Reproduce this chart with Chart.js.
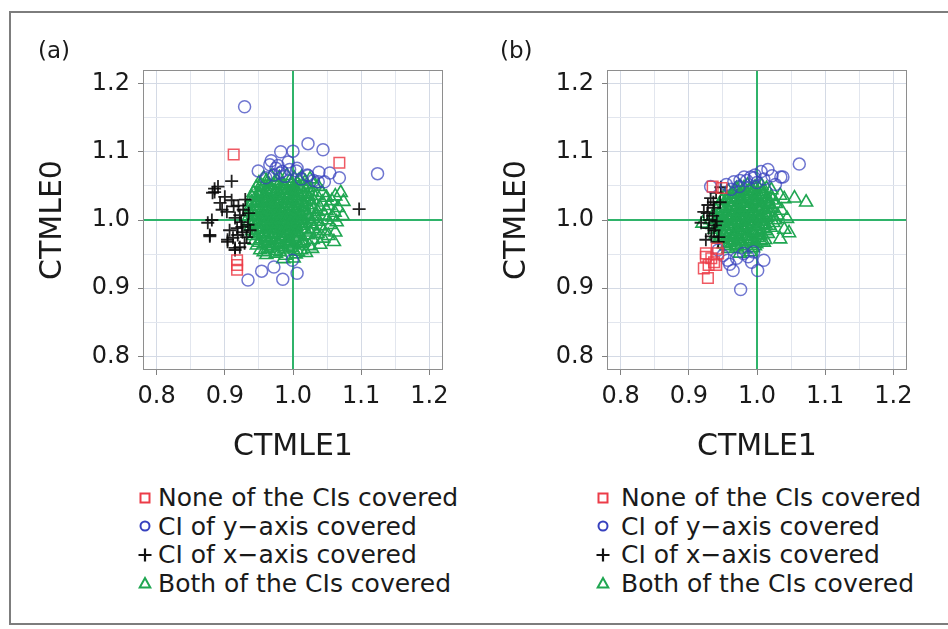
<!DOCTYPE html>
<html><head><meta charset="utf-8">
<script src="https://cdn.jsdelivr.net/npm/chart.js@4.4.1/dist/chart.umd.min.js"></script>
<style>
html,body{margin:0;padding:0;background:#fff;width:948px;height:629px;overflow:hidden;}
#frame{position:absolute;left:9px;top:11px;width:1000px;height:614px;border:2px solid #7d7d7d;box-sizing:border-box;}
canvas{position:absolute;top:0;}
.lbl{position:absolute;font-family:'DejaVu Sans';font-size:23px;line-height:23px;color:#1a1a1a;}
.leg{position:absolute;font-family:'DejaVu Sans';font-size:25px;line-height:28.4px;color:#1a1a1a;white-space:nowrap;}
.mk{position:absolute;}
</style></head><body>
<div id="frame"></div>
<canvas id="ca" width="474" height="470" style="left:0px"></canvas>
<canvas id="cb" width="474" height="470" style="left:464px"></canvas>
<div class="lbl" style="left:38px;top:39px">(a)</div>
<div class="lbl" style="left:500px;top:39px">(b)</div>
<div id="legends"></div>
<script>
// ---------- data ----------
const seriesLabels = ['None of the CIs covered','CI of y\u2212axis covered','CI of x\u2212axis covered','Both of the CIs covered'];
const xTitle = 'CTMLE1';
const yTitle = 'CTMLE0';
const axisMin = 0.78, axisMax = 1.22;
const majorTicks = [0.8, 0.9, 1.0, 1.1, 1.2];
const gridValues = [0.8, 0.85, 0.9, 0.95, 1.0, 1.05, 1.1, 1.15, 1.2];
const refValue = 1.0;

// Panel (a)
const noneA = [[0.913,1.096],[1.068,1.084],[0.918,0.941],[0.918,0.934],[0.918,0.927]];
const yCovA = [[0.929,1.166],[1.022,1.112],[1.044,1.103],[0.982,1.100],[1.000,1.101],[0.968,1.087],[0.993,1.085],[1.006,1.076],[0.975,1.076],[0.949,1.072],[0.984,1.071],[1.054,1.069],[1.124,1.068],[1.068,1.062],[1.022,1.065],[1.005,1.072],[1.038,1.070],[0.960,1.062],[0.981,1.069],[0.966,1.081],[1.021,1.066],[1.037,1.056],[0.988,1.064],[0.995,1.074],[0.972,1.066],[1.012,1.060],[0.978,1.080],[1.030,1.058],[1.046,1.056],
  [0.934,0.912],[0.954,0.925],[0.972,0.931],[0.985,0.913],[1.006,0.922],[0.999,0.941]];
const xCovA = [[0.910,1.057],[0.885,1.046],[0.890,1.049],[0.882,1.040],[0.900,1.034],[0.893,1.025],[0.910,1.029],[0.903,1.012],[0.881,1.000],[0.915,1.003],[0.922,1.007],[0.878,0.976],[0.907,0.985],[0.918,0.988],[0.925,0.990],[0.912,0.974],[0.919,0.978],[0.926,0.982],[0.904,0.968],[0.932,0.975],[0.937,0.985],[0.934,0.993],[0.922,0.960],[0.915,0.956],[1.097,1.016],[0.885,1.041],[0.896,1.015],[0.875,0.996],[0.878,0.978],[0.904,0.971],[0.915,0.959],[0.929,0.966],[0.920,1.021],[0.927,1.015],[0.913,1.020],[0.935,1.010],[0.924,0.997],[0.930,1.030]];
const bothA = [
  [0.957,1.061],[0.968,1.064],[0.980,1.062],[0.991,1.065],[1.002,1.061],[1.013,1.063],[1.025,1.060],
  [0.950,1.054],[0.961,1.057],[0.973,1.055],[0.984,1.053],[0.995,1.057],[1.006,1.054],[1.018,1.056],[1.031,1.053],
  [0.946,1.047],[0.956,1.049],[0.967,1.046],[0.978,1.050],[0.989,1.048],[0.999,1.046],[1.010,1.049],[1.021,1.047],[1.037,1.049],
  [0.942,1.040],[0.953,1.042],[0.963,1.039],[0.974,1.041],[0.985,1.043],[0.996,1.040],[1.006,1.042],[1.016,1.039],[1.028,1.041],[1.043,1.040],[1.070,1.040],
  [0.940,1.033],[0.950,1.035],[0.960,1.032],[0.971,1.034],[0.981,1.036],[0.992,1.033],[1.002,1.035],[1.012,1.032],[1.023,1.034],[1.035,1.036],[1.049,1.033],[1.062,1.035],
  [0.939,1.026],[0.948,1.028],[0.958,1.025],[0.968,1.027],[0.978,1.029],[0.988,1.026],[0.998,1.028],[1.008,1.025],[1.019,1.027],[1.030,1.029],[1.043,1.026],[1.057,1.028],[1.074,1.027],
  [0.937,1.019],[0.946,1.021],[0.956,1.018],[0.966,1.020],[0.976,1.022],[0.986,1.019],[0.996,1.021],[1.006,1.018],[1.016,1.020],[1.026,1.022],[1.039,1.019],[1.052,1.021],[1.066,1.018],
  [0.936,1.012],[0.945,1.014],[0.955,1.011],[0.965,1.013],[0.975,1.015],[0.984,1.012],[0.994,1.014],[1.004,1.011],[1.014,1.013],[1.025,1.015],[1.036,1.012],[1.049,1.014],[1.061,1.011],
  [0.935,1.005],[0.944,1.007],[0.954,1.004],[0.963,1.006],[0.973,1.008],[0.983,1.005],[0.993,1.007],[1.003,1.004],[1.012,1.006],[1.022,1.008],[1.034,1.005],[1.046,1.007],[1.058,1.004],[1.073,1.006],
  [0.936,0.998],[0.945,1.000],[0.955,0.997],[0.964,0.999],[0.974,1.001],[0.984,0.998],[0.993,1.000],[1.003,0.997],[1.013,0.999],[1.024,1.001],[1.037,0.998],[1.050,1.000],[1.064,0.997],
  [0.938,0.991],[0.947,0.993],[0.957,0.990],[0.966,0.992],[0.976,0.994],[0.985,0.991],[0.995,0.993],[1.005,0.990],[1.015,0.992],[1.027,0.994],[1.040,0.991],[1.055,0.993],
  [0.940,0.984],[0.949,0.986],[0.958,0.983],[0.968,0.985],[0.978,0.987],[0.987,0.984],[0.997,0.986],[1.007,0.983],[1.018,0.985],[1.030,0.987],[1.045,0.984],[1.062,0.982],
  [0.942,0.977],[0.951,0.979],[0.961,0.976],[0.970,0.978],[0.980,0.980],[0.990,0.977],[1.000,0.979],[1.010,0.976],[1.022,0.978],[1.036,0.980],[1.052,0.977],
  [0.944,0.970],[0.954,0.972],[0.964,0.969],[0.974,0.971],[0.984,0.973],[0.994,0.970],[1.004,0.972],[1.016,0.969],[1.029,0.971],[1.044,0.973],[1.060,0.968],
  [0.947,0.963],[0.958,0.965],[0.968,0.962],[0.979,0.964],[0.989,0.966],[1.000,0.963],[1.011,0.965],[1.024,0.962],[1.040,0.964],
  [0.952,0.956],[0.963,0.958],[0.975,0.955],[0.987,0.957],[0.999,0.959],[1.012,0.956],[1.028,0.958],
  [0.961,0.949],[0.975,0.951],[0.989,0.948],[1.004,0.950],[1.019,0.952],[0.986,0.943],[1.001,0.944],
  [0.962,1.045],[0.972,1.038],[0.983,1.046],[0.993,1.037],[1.003,1.044],[0.958,1.030],[0.968,1.024],[0.979,1.031],[0.989,1.023],[0.999,1.031],[1.009,1.024],
  [0.961,1.016],[0.971,1.009],[0.980,1.017],[0.990,1.010],[1.000,1.016],[1.010,1.009],[0.959,1.002],[0.969,0.995],[0.979,1.003],[0.989,0.996],[0.999,1.002],[1.009,0.995],
  [0.962,0.988],[0.972,0.981],[0.982,0.989],[0.992,0.982],[1.002,0.988],[0.967,0.974],[0.977,0.967],[0.987,0.975],[0.997,0.968],[1.007,0.975],
  [0.953,1.051],[0.965,1.052],[0.976,1.058],[0.987,1.050],[0.998,1.052],[1.009,1.058],[1.015,1.051],
  [0.948,1.038],[0.959,1.036],[0.970,1.043],[0.980,1.040],[0.991,1.044],[1.001,1.039],[1.011,1.045],[1.021,1.037],
  [0.944,1.024],[0.953,1.027],[0.963,1.029],[0.974,1.026],[0.984,1.030],[0.994,1.025],[1.004,1.029],[1.014,1.026],[1.024,1.030],
  [0.941,1.010],[0.950,1.016],[0.960,1.009],[0.970,1.014],[0.979,1.010],[0.988,1.015],[0.997,1.010],[1.007,1.014],[1.018,1.010],[1.030,1.016],
  [0.941,0.995],[0.951,1.001],[0.960,0.994],[0.970,1.000],[0.979,0.995],[0.988,1.001],[0.997,0.995],[1.007,1.001],[1.018,0.996],[1.030,1.002],
  [0.944,0.981],[0.953,0.987],[0.963,0.980],[0.973,0.986],[0.983,0.980],[0.993,0.986],[1.003,0.981],[1.013,0.987],[1.025,0.982],
  [0.950,0.967],[0.960,0.973],[0.971,0.966],[0.981,0.972],[0.992,0.966],[1.002,0.973],[1.014,0.967],
  [0.957,0.953],[0.969,0.960],[0.981,0.953],[0.993,0.961],[1.007,0.954]];

// Panel (b)
const noneB = [[0.935,1.049],[0.948,1.047],[0.925,0.951],[0.922,0.929],[0.928,0.915],[0.937,0.938],[0.933,0.944],[0.941,0.958],[0.929,0.934],[0.940,0.934],[0.925,0.946],[0.943,0.951]];
const yCovB = [[1.062,1.082],[0.932,1.049],[0.966,1.056],[0.975,1.058],[1.006,1.071],[1.016,1.074],[1.035,1.063],[0.991,1.063],[0.974,1.049],[0.955,1.052],[0.985,1.058],[0.997,1.066],[1.010,1.060],[1.022,1.065],[1.000,1.055],[1.027,1.052],[0.962,1.045],[1.038,1.063],[0.981,1.063],[0.996,1.062],
  [0.976,0.898],[0.965,0.926],[1.001,0.926],[0.957,0.941],[0.987,0.946],[1.010,0.941],[0.943,0.956],[0.950,0.948],[0.970,0.944],[0.995,0.953],[0.980,0.951],[0.960,0.935],[0.992,0.938]];
const xCovB = [[0.932,1.032],[0.928,1.022],[0.937,1.018],[0.922,1.012],[0.927,1.010],[0.935,1.006],[0.930,1.000],[0.941,0.998],[0.937,0.985],[0.929,0.988],[0.925,0.971],[0.943,0.968],[0.944,0.975],[0.933,0.976],[0.939,0.992],[0.946,1.026],[0.940,1.040],[0.947,1.048],[0.918,0.996],[0.936,1.026]];
const bothB = [
  [0.975,1.049],[0.986,1.051],[0.997,1.048],[1.007,1.050],
  [0.958,1.042],[0.968,1.044],[0.978,1.041],[0.988,1.043],[0.998,1.045],[1.009,1.042],[1.021,1.044],
  [0.952,1.035],[0.962,1.037],[0.971,1.034],[0.981,1.036],[0.991,1.038],[1.000,1.035],[1.010,1.037],[1.021,1.034],[1.034,1.036],
  [0.948,1.028],[0.957,1.030],[0.966,1.027],[0.975,1.029],[0.984,1.031],[0.993,1.028],[1.002,1.030],[1.012,1.027],[1.023,1.029],[1.040,1.031],[1.055,1.032],
  [0.944,1.021],[0.953,1.023],[0.962,1.020],[0.971,1.022],[0.980,1.024],[0.989,1.021],[0.998,1.023],[1.007,1.020],[1.017,1.022],[1.028,1.024],[1.072,1.026],
  [0.940,1.014],[0.949,1.016],[0.958,1.013],[0.967,1.015],[0.976,1.017],[0.985,1.014],[0.994,1.016],[1.003,1.013],[1.012,1.015],[1.022,1.017],[1.036,1.014],
  [0.936,1.007],[0.945,1.009],[0.954,1.006],[0.963,1.008],[0.972,1.010],[0.981,1.007],[0.990,1.009],[0.999,1.006],[1.008,1.008],[1.018,1.010],[1.030,1.007],
  [0.932,1.000],[0.942,1.002],[0.951,0.999],[0.960,1.001],[0.969,1.003],[0.978,1.000],[0.987,1.002],[0.996,0.999],[1.005,1.001],[1.015,1.003],[1.026,1.000],[1.044,1.002],
  [0.920,0.995],[0.935,0.993],[0.948,0.995],[0.957,0.992],[0.966,0.994],[0.975,0.996],[0.984,0.993],[0.993,0.995],[1.002,0.992],[1.012,0.994],[1.024,0.996],
  [0.938,0.986],[0.946,0.988],[0.955,0.985],[0.964,0.987],[0.973,0.989],[0.982,0.986],[0.991,0.988],[1.000,0.985],[1.010,0.987],[1.020,0.989],[1.040,0.986],
  [0.940,0.979],[0.950,0.981],[0.959,0.978],[0.968,0.980],[0.977,0.982],[0.986,0.979],[0.995,0.981],[1.005,0.978],[1.016,0.980],[1.047,0.981],
  [0.945,0.972],[0.955,0.974],[0.964,0.971],[0.973,0.973],[0.982,0.975],[0.991,0.972],[1.001,0.974],[1.012,0.971],[1.034,0.972],
  [0.951,0.965],[0.960,0.967],[0.970,0.964],[0.979,0.966],[0.989,0.968],[0.999,0.965],[1.010,0.967],
  [0.958,0.958],[0.970,0.960],[0.982,0.957],[0.994,0.959],[0.975,0.951],[0.990,0.953],
  [0.965,1.032],[0.975,1.025],[0.985,1.033],[0.995,1.026],[1.005,1.033],[0.962,1.018],[0.972,1.011],[0.982,1.019],[0.992,1.012],[1.002,1.019],
  [0.958,1.004],[0.968,0.997],[0.978,1.005],[0.988,0.998],[0.998,1.005],[1.008,0.998],[0.960,0.990],[0.970,0.983],[0.980,0.991],[0.990,0.984],[1.000,0.991],
  [0.965,0.976],[0.975,0.969],[0.985,0.977],[0.995,0.970],
  [0.970,1.046],[0.981,1.047],[0.992,1.046],[1.003,1.046],[1.014,1.046],
  [0.956,1.032],[0.966,1.039],[0.976,1.033],[0.986,1.039],[0.996,1.032],[1.006,1.039],[1.016,1.031],
  [0.950,1.018],[0.959,1.025],[0.968,1.018],[0.978,1.026],[0.987,1.018],[0.997,1.025],[1.007,1.017],[1.017,1.026],
  [0.946,1.004],[0.955,1.011],[0.964,1.004],[0.974,1.012],[0.983,1.004],[0.993,1.011],[1.003,1.004],[1.013,1.011],[1.024,1.005],
  [0.943,0.990],[0.952,0.997],[0.961,0.990],[0.971,0.998],[0.980,0.990],[0.990,0.997],[0.999,0.990],[1.009,0.998],[1.018,0.992],
  [0.946,0.976],[0.955,0.983],[0.964,0.976],[0.974,0.984],[0.984,0.976],[0.994,0.983],[1.004,0.977],[1.013,0.984],
  [0.955,0.962],[0.965,0.969],[0.976,0.962],[0.986,0.969],[0.997,0.962],[1.006,0.969]];

// ---------- styles ----------
const seriesStyle = [
  {shape:'rect',     color:'rgba(236,60,72,0.85)', radius:7.5, width:1.5},
  {shape:'circle',   color:'rgba(55,65,190,0.72)', radius:6,   width:1.5},
  {shape:'cross',    color:'rgba(10,10,10,0.9)',   radius:6.5, width:1.8},
  {shape:'triangle', color:'#1fa651',              radius:7.5, width:1.6}
];
const majorGrid = 'rgb(212,218,229)', minorGrid = 'rgb(226,230,238)';
const refColor = '#2fb36a';
const textColor = '#1a1a1a';
const isMajor = v => majorTicks.some(t => Math.abs(t - v) < 1e-9);

const framePlugin = {
  id: 'frameRefs',
  beforeDatasetsDraw(chart) {
    const {ctx, chartArea: a, scales: {x, y}} = chart;
    ctx.save();
    ctx.beginPath(); ctx.rect(a.left, a.top, a.right - a.left, a.bottom - a.top); ctx.clip();
    ctx.strokeStyle = refColor; ctx.lineWidth = 2;
    const px = x.getPixelForValue(refValue), py = y.getPixelForValue(refValue);
    ctx.beginPath();
    ctx.moveTo(px, a.top); ctx.lineTo(px, a.bottom);
    ctx.moveTo(a.left, py); ctx.lineTo(a.right, py);
    ctx.stroke();
    ctx.restore();
    ctx.save();
    ctx.strokeStyle = '#8e8e8e'; ctx.lineWidth = 1;
    ctx.strokeRect(a.left + 0.5, a.top + 0.5, a.right - a.left - 1, a.bottom - a.top - 1);
    ctx.restore();
  }
};

function axis(title, isY) {
  return {
    type: 'linear', min: axisMin, max: axisMax,
    afterBuildTicks: s => { s.ticks = gridValues.map(v => ({value: v})); },
    afterFit: s => { if (isY) s.width = 143; else s.height = 100; },
    ticks: {
      autoSkip: false, maxRotation: 0, minRotation: 0,
      padding: isY ? 8 : 7, color: textColor,
      font: {family: 'DejaVu Sans', size: 24},
      callback: v => isMajor(v) ? Number(v).toFixed(1) : ''
    },
    grid: {
      color: c => (c.tick && isMajor(c.tick.value)) ? majorGrid : minorGrid,
      tickColor: c => (c.tick && isMajor(c.tick.value)) ? '#808080' : 'rgba(0,0,0,0)',
      tickLength: 5, lineWidth: 1
    },
    border: {display: false},
    title: {
      display: true, text: title, color: textColor,
      font: {family: 'DejaVu Sans', size: 30, lineHeight: 1.2},
      padding: isY ? {top: 35, bottom: 0} : {top: 0, bottom: 5}
    }
  };
}

function makeChart(id, sets) {
  return new Chart(document.getElementById(id), {
    type: 'scatter',
    data: {
      datasets: sets.map((pts, i) => ({
        label: seriesLabels[i],
        data: pts.map(p => ({x: p[0], y: p[1]})),
        pointStyle: seriesStyle[i].shape,
        pointRadius: seriesStyle[i].radius,
        pointBorderColor: seriesStyle[i].color,
        pointBackgroundColor: 'rgba(0,0,0,0)',
        pointBorderWidth: seriesStyle[i].width,
        showLine: false
      }))
    },
    options: {
      responsive: false, animation: false, devicePixelRatio: 1, events: [],
      layout: {padding: {top: 70, right: 31, bottom: 0, left: 0}},
      plugins: {legend: {display: false}, tooltip: {enabled: false}},
      scales: {x: axis(xTitle, false), y: axis(yTitle, true)}
    },
    plugins: [framePlugin]
  });
}

makeChart('ca', [noneA, yCovA, xCovA, bothA]);
makeChart('cb', [noneB, yCovB, xCovB, bothB]);

// ---------- legends (HTML) ----------
function markerSvg(shape, color) {
  let body = '';
  if (shape === 'rect') body = `<rect x="2.5" y="2.5" width="9" height="9" fill="none" stroke="${color}" stroke-width="2"/>`;
  else if (shape === 'circle') body = `<circle cx="7" cy="7" r="4.5" fill="none" stroke="${color}" stroke-width="2"/>`;
  else if (shape === 'cross') body = `<path d="M7 0.5V13.5M0.5 7H13.5" stroke="${color}" stroke-width="2.2" fill="none"/>`;
  else body = `<path d="M7 2L12.3 11.5H1.7Z" fill="none" stroke="${color}" stroke-width="2" stroke-linejoin="miter"/>`;
  return `<svg width="14" height="14" viewBox="0 0 14 14">${body}</svg>`;
}
const legendPos = [{mx: 145, tx: 158}, {mx: 603, tx: 621}];
let html = '';
legendPos.forEach(pos => {
  seriesLabels.forEach((lab, i) => {
    const cy = 498 + i * 28.4;
    const col = seriesStyle[i].shape === 'cross' ? '#111' : seriesStyle[i].color.replace(/rgba\(([^,]+),([^,]+),([^,]+),[^)]+\)/, 'rgb($1,$2,$3)');
    html += `<div class="mk" style="left:${pos.mx - 7}px;top:${cy - 7}px">${markerSvg(seriesStyle[i].shape, col)}</div>`;
    html += `<div class="leg" style="left:${pos.tx}px;top:${(cy - 13.7).toFixed(1)}px">${lab}</div>`;
  });
});
document.getElementById('legends').innerHTML = html;
</script>
</body></html>
